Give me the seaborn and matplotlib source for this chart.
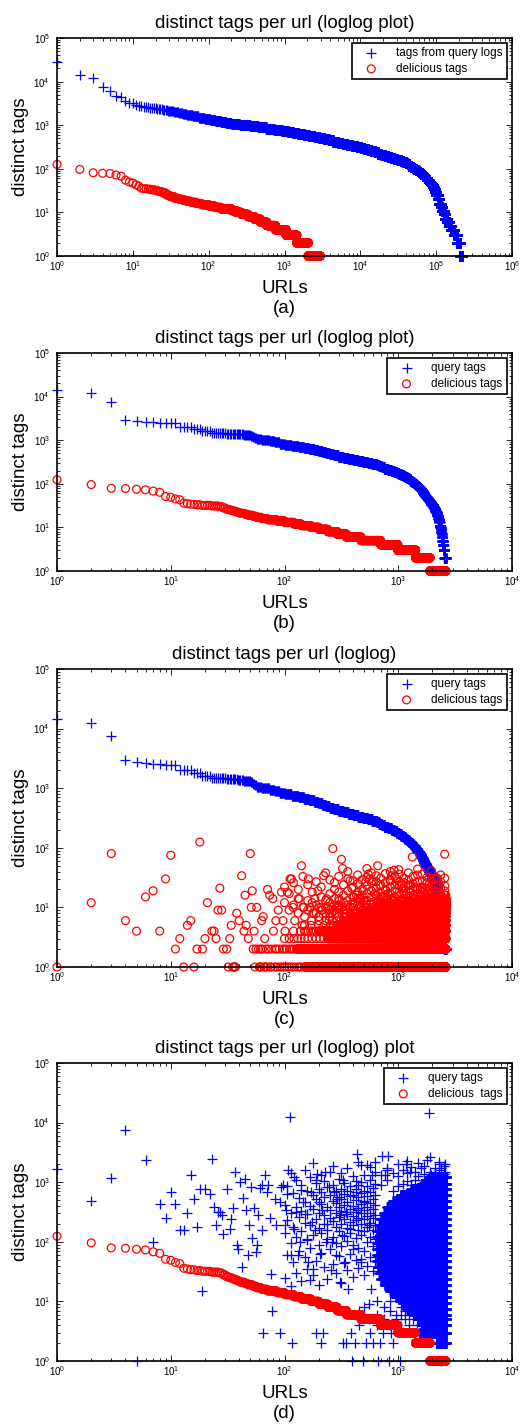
import numpy as np
import pandas as pd
import matplotlib
matplotlib.use("Agg")
import matplotlib.pyplot as plt
import seaborn as sns

# ---- (a) all urls: sorted tag counts kept as runs (value, last url rank with it)
qlog_a_vals = [28800, 14000, 12300, 7600, 6200, 4600, 4400, 3500, 3300, 3250, 2900, 2800, 2700, 2650,
               2600, 2550, 2500, 2450, 2350, 2230, 2100, 2000, 1890, 1780, 1680, 1590, 1500, 1420,
               1340, 1260, 1190, 1120, 1060, 1000, 945, 890, 840, 795, 750, 710, 670, 630, 595, 560,
               530, 500, 472, 446, 421, 398, 376, 355, 335, 316, 299, 282, 266, 251, 237, 224, 211,
               200, 188, 178, 168, 158, 150, 141, 133, 126, 119, 112, 106, 100, 94, 89, 84, 79, 75,
               71, 67, 63, 60, 56, 53, 50, 47, 45, 42, 40, 38, 35, 33, 32, 30, 25, 20, 16, 13, 11,
               9, 7, 6, 5, 4, 3, 2, 1]
qlog_a_last = [1, 2, 3, 4, 5, 6, 7, 8, 9, 10, 11, 12, 13, 14, 15, 16, 18, 20, 24, 28, 34, 40, 45, 51,
               61, 73, 88, 104, 122, 144, 168, 199, 256, 350, 447, 574, 733, 925, 1113, 1295, 1517,
               1800, 2094, 2483, 2870, 3311, 3820, 4406, 5083, 5821, 6714, 7745, 8933, 10210, 11280,
               12560, 13930, 15450, 17130, 19000, 21070, 23050, 25590, 28050, 30900, 34040, 36500,
               39630, 41880, 44060, 46340, 49090, 51520, 53960, 56760, 59410, 61910, 64450, 66800,
               69340, 71660, 74150, 76180, 79250, 81300, 83380, 85710, 87350, 90000, 91410, 92890,
               95400, 97050, 97950, 100000, 105000, 110000, 116000, 121000, 125000, 132000, 140000,
               147000, 155000, 170000, 187000, 208000, 218000]
del_a_vals = [126, 97, 81, 79, 78, 72, 68, 55, 50, 47, 43, 40, 36, 35, 34, 33, 32, 30, 28, 25, 23, 21,
              20, 19, 18, 17, 16, 15, 14, 13, 12, 11, 10, 9, 8, 7, 6, 5, 4, 3, 2, 1]
del_a_last = [1, 2, 3, 4, 5, 6, 7, 8, 9, 10, 11, 12, 13, 15, 17, 19, 21, 24, 27, 30, 35, 40, 45, 50,
              58, 68, 80, 100, 120, 145, 200, 230, 270, 330, 400, 480, 580, 760, 1050, 1450, 2050, 2950]

# ---- (b) urls having both kinds of tags
query_b_vals = [14300, 12300, 7500, 2950, 2780, 2620, 2560, 2530, 2490, 2470, 2450, 2050, 1800, 1600,
                1500, 1420, 1370, 1320, 1250, 1180, 1120, 1060, 1000, 945, 890, 840, 795, 750, 710,
                670, 630, 595, 560, 530, 500, 472, 446, 421, 398, 376, 355, 335, 316, 299, 282, 266,
                251, 237, 224, 211, 200, 188, 178, 168, 158, 150, 141, 133, 126, 119, 112, 106, 100,
                94, 89, 84, 79, 75, 71, 67, 63, 60, 56, 53, 50, 47, 45, 42, 40, 38, 35, 33, 32, 30,
                28, 26, 24, 22, 20, 18, 16, 14, 13, 11, 10, 9, 8, 7, 6, 5, 4, 3, 2]
query_b_last = [1, 2, 3, 4, 5, 6, 7, 8, 9, 10, 11, 15, 18, 22, 30, 38, 43, 50, 52, 54, 56, 62, 73,
                81, 90, 100, 115, 132, 147, 163, 182, 198, 214, 230, 248, 269, 297, 329, 363, 401,
                442, 488, 537, 586, 646, 679, 714, 755, 809, 871, 921, 967, 1009, 1057, 1110, 1146,
                1191, 1236, 1279, 1322, 1368, 1400, 1432, 1469, 1503, 1538, 1570, 1593, 1618, 1644,
                1671, 1694, 1726, 1750, 1780, 1813, 1837, 1875, 1901, 1932, 1981, 2014, 2035, 2061,
                2086, 2112, 2143, 2175, 2210, 2250, 2270, 2296, 2307, 2339, 2355, 2377, 2400, 2417,
                2438, 2466, 2500, 2547, 2620]
del_b_vals = [124, 96, 79, 78, 75, 73, 68, 64, 51, 49, 45, 43, 36, 35, 34, 33, 32, 31, 30, 28, 26, 25,
              24, 23, 22, 21, 20, 19, 18, 17, 16, 15, 14, 13, 12, 11, 10, 9, 8, 7, 6, 5, 4, 3, 2, 1]
del_b_last = [1, 2, 3, 4, 5, 6, 7, 8, 9, 10, 11, 12, 13, 14, 16, 18, 22, 26, 28, 30, 32, 34, 36, 38,
              40, 44, 47, 52, 56, 62, 70, 85, 100, 120, 140, 170, 200, 240, 290, 350, 470, 700, 990,
              1420, 1900, 2620]

# ---- (c) delicious tags in query-tag order: single circles, columns of circles, solid rows
del_c_rank = [1, 2, 3, 4, 5, 6, 7, 8, 9, 10, 11, 12, 13, 14, 15, 16, 17, 18, 19, 20,
              21, 23, 24, 25, 26, 27, 28, 29, 31, 32, 33, 34, 35, 36, 38, 40, 42, 44, 45, 46,
              48, 50, 51, 52, 54, 57, 59, 61, 63, 65, 67, 71, 74, 75, 79, 80, 84, 85, 88, 91,
              94, 97, 101, 106, 110, 112, 115, 119, 123, 128, 130, 135, 141, 143, 148, 154, 162,
              168, 173, 178, 184, 197, 203, 215, 221, 235, 247, 260, 266, 276, 290, 303, 317, 324,
              340, 350, 377, 390, 408, 430, 458, 470, 496, 520, 545, 563, 592, 625, 660, 690, 740,
              780, 815, 850, 875, 920, 960, 1010, 1060, 1110, 1170, 1260, 1330, 1400, 1475, 1560,
              1630, 1720, 1820, 1910, 2000, 2110, 2200, 2270, 2380, 2560, 2620]
del_c_val = [1, 12, 80, 6, 4, 15, 19, 4, 30, 75, 2, 3, 1, 5, 6, 1, 2, 125, 2, 3,
             12, 4, 4, 3, 9, 21, 9, 2, 2, 1, 3, 5, 1, 1, 8, 6, 34, 4, 16, 5,
             3, 80, 10, 19, 4, 10, 2, 1, 6, 7, 3, 20, 16, 1, 14, 4, 6, 2, 9, 1,
             18, 6, 4, 18, 1, 30, 30, 10, 6, 2, 1, 14, 50, 5, 10, 4, 30,
             10, 6, 8, 14, 19, 10, 9, 34, 14, 6, 8, 97, 14, 10, 13, 64, 45,
             8, 8, 28, 21, 15, 16, 14, 10, 19, 27, 36, 30, 28, 17, 50, 23, 15,
             19, 17, 28, 34, 42, 30, 43, 25, 19, 16, 24, 70, 22, 20, 20,
             21, 19, 19, 20, 14, 16, 31, 24, 15, 78, 16]
del_c_columns = [
    (100, [12, 22]), (110, [9, 17]), (120, [11, 26]), (132, [8, 14, 20]), (145, [10, 33]),
    (160, [9, 13, 24]), (175, [12, 18]), (190, [8, 11, 27]), (210, [9, 15, 22]),
    (230, [10, 13, 38]), (250, [8, 12, 17, 29]), (275, [9, 11, 20, 26]), (300, [10, 14, 18, 33]),
    (330, [9, 12, 16, 24]), (360, [11, 13, 19, 30, 40]), (400, [10, 12, 15, 22, 28]),
    (440, [11, 14, 18, 25, 35]), (480, [12, 16, 20, 29]), (530, [11, 13, 17, 23, 32, 45]),
    (580, [12, 15, 19, 26, 38]), (640, [11, 14, 16, 21, 27, 34]), (700, [12, 15, 18, 24, 31]),
    (770, [13, 16, 20, 26, 37]), (850, [12, 14, 17, 22, 29, 40]), (930, [13, 15, 19, 24, 33]),
    (1020, [13, 16, 18, 23, 27, 36]), (1120, [14, 17, 21, 26, 31]),
    (1230, [13, 15, 19, 23, 29, 38]), (1350, [14, 16, 20, 25, 33]),
    (1480, [14, 17, 21, 27, 35, 44]), (1630, [15, 18, 22, 28, 36]), (1790, [15, 17, 21, 26, 32]),
    (1960, [15, 18, 23, 29, 41]), (2150, [16, 19, 24, 30]), (2360, [15, 17, 21, 27, 35]),
    (2560, [16, 19, 23, 31]),
]
del_c_chains = [
    (1, [36, 37, 55, 60, 62, 66, 68, 70, 76, 82, 86, 95, 100, 105, 116, 122, 136, 140]),
    (2, [53, 56, 62, 64, 69, 72, 77, 83, 90, 96, 100, 104, 111, 116, 121]),
    (3, [100, 110, 121, 131, 140, 150, 160, 175, 190, 205, 222]),
    (4, [120, 138, 150, 161, 170, 181, 190]),
    (5, [150, 171, 198, 222, 252, 271]),
    (6, [201, 232, 262, 291, 312]),
    (7, [150, 200, 250, 300, 340]),
    (8, [180, 230, 280, 330, 380, 420, 460]),
    (9, [250, 300, 350, 420, 480, 520]),
    (10, [210, 260, 320, 380, 450, 520, 600, 650]),
    (11, [300, 400, 500, 600, 700, 800, 900]),
    (12, [400, 520, 650, 800, 950, 1100, 1200]),
    (13, [500, 700, 900, 1100, 1300, 1500]),
    (14, [800, 1100, 1400, 1700]),
]
del_c_row_val = [1, 2, 3, 4, 5, 6, 7, 8, 9, 10, 11, 12, 13, 14]
del_c_row_from = [150, 128, 240, 200, 290, 330, 380, 500, 560, 690, 960, 1260, 1650, 1900]
del_c_row_to = [2620] * 14

# ---- (d) query tags in delicious-tag order: single crosses, columns of crosses, solid rows
query_d_rank = [1, 2, 3, 4, 5, 6, 7, 8, 9, 10, 11, 12, 13, 14, 15, 16, 17, 18, 19, 20,
                22, 23, 24, 25, 26, 27, 28, 29, 31, 33, 34, 35, 37, 38, 39, 41, 42, 43, 45, 46,
                48, 49, 51, 52, 54, 56, 57, 59, 61, 63, 64, 67, 70, 72, 74, 76, 78, 82, 85, 91,
                94, 97, 101, 104, 106, 108, 111, 115, 117, 120, 122, 127, 131, 136, 141, 146, 152,
                157, 162, 166, 170, 174, 179, 185, 191, 189, 194, 200, 204, 210, 215, 218, 226, 230,
                237, 246, 255, 264, 272, 284, 292, 305, 309, 319, 326, 330, 338, 346, 350, 362, 375,
                388, 396, 402, 418, 422, 430, 445, 452, 466, 472, 490, 496, 504, 520, 535, 550, 560,
                575, 592, 600, 625, 668, 690, 697, 714, 740, 760, 790, 815, 830, 870, 900, 1030,
                1170, 1260, 1400, 1600, 1800, 1870, 1940, 2170, 2290, 2380, 2400, 2560, 65, 92]
query_d_val = [1690, 478, 1180, 7500, 1, 2400, 100, 425, 254, 685, 436, 160, 160, 310, 1300, 515, 177,
               760, 15, 760,
               640, 2420, 385, 189, 317, 317, 278, 137, 780, 162, 245, 369, 1480, 87, 77, 1010, 38,
               543, 1120, 337,
               59, 189, 830, 116, 369, 67, 87, 278, 800, 156, 890, 1300, 685, 890, 251, 29, 7, 530,
               189, 465,
               830, 890, 189, 337, 640, 1580, 12300, 59, 2, 1220, 166, 317, 59, 100, 730, 465, 297,
               106, 46, 23, 685, 215, 35, 156, 1070, 3, 1380, 465, 63, 2, 337, 3, 1480, 100,
               200, 830, 33, 100, 685, 59, 530, 21, 278, 129, 1070, 2, 46, 2, 317, 16, 166,
               3, 1, 77, 2, 685, 3000, 337, 5, 52, 1920, 1, 8, 465, 2, 1920, 189, 3,
               16, 1300, 2, 2180, 1, 2, 77, 2800, 3, 1300, 1580, 2800, 1, 3, 2, 1,
               2050, 1480, 3, 1700, 2400, 14300, 1300, 2, 2050, 1, 1700, 2, 3, 3]
query_d_columns = [
    (100, [25, 140, 420]), (106, [60, 230, 880]), (113, [18, 95, 310, 1400]),
    (119, [45, 180, 650]), (126, [30, 120, 380, 1100]), (133, [70, 260, 540]),
    (141, [22, 150, 330, 900]), (150, [55, 210, 470, 1600]), (158, [35, 110, 290, 720]),
    (168, [80, 190, 400, 1200]), (178, [28, 130, 350, 620, 2100]), (188, [48, 240, 520, 980]),
    (200, [19, 90, 170, 310, 760]), (211, [65, 140, 430, 680, 1300]),
    (224, [38, 200, 280, 560, 1050]), (237, [24, 110, 160, 390, 820]),
    (251, [75, 250, 340, 610, 1500]), (266, [42, 120, 220, 480, 900, 1900]),
    (282, [30, 95, 180, 300, 440, 700]), (299, [58, 150, 260, 380, 560, 1150]),
    (316, [20, 85, 200, 330, 520, 780, 1400]), (335, [44, 125, 240, 410, 640, 980]),
    (355, [33, 105, 170, 290, 460, 710, 1700]), (376, [62, 140, 215, 350, 580, 860]),
    (398, [26, 90, 190, 270, 400, 620, 1250]), (421, [50, 115, 230, 320, 500, 760, 1050]),
    (446, [36, 80, 160, 250, 370, 560, 890, 2200]), (472, [45, 130, 200, 300, 430, 650, 1000]),
    (500, [28, 70, 150, 240, 340, 480, 720, 1300]), (530, [40, 100, 180, 270, 390, 590, 850]),
    (560, [55, 120, 210, 310, 450, 680, 1100, 1800]), (595, [32, 85, 160, 250, 360, 530, 790]),
    (630, [48, 110, 190, 280, 420, 620, 950, 1500]),
    (700, [900, 1300]), (800, [1100, 1700]), (900, [700, 1400]), (1000, [850, 1250, 2000]),
    (1100, [950, 1600]), (1200, [1050, 1400, 2300]), (1300, [900, 1800]), (1400, [1100, 1500]),
    (1500, [1250, 2100]), (1700, [1000, 1350, 1900]), (1900, [1500, 2600]), (2100, [1400, 1700]),
    (2300, [1600, 2200]), (2500, [1350, 1900]), (2600, [1500, 2000]),
    (450, [4, 7]), (550, [5, 9]), (650, [4, 6, 10]), (750, [5, 8]), (850, [4, 7, 10]),
    (950, [5, 6]), (1050, [6, 8]), (1150, [5, 7]), (1250, [4, 6]), (1350, [5]), (1450, [4]),
]
query_d_row_val = [2, 3, 4, 5, 6, 7.5, 9.5, 12, 15, 19, 24, 30, 38, 48, 60, 75, 95, 120, 150, 190,
                   240, 300, 380, 480, 600, 760, 950, 1200]
query_d_row_from = [2180, 1550, 1600, 1500, 1400, 1200, 1100, 950, 850, 760, 700, 680, 660, 650, 650,
                    650, 650, 650, 650, 680, 700, 750, 800, 900, 1050, 1300, 1600, 1900]
query_d_row_to = [2620] * 28


def ranked(vals, last):
    n = np.diff(np.r_[0, last])
    tags = np.repeat(vals, n)
    return pd.DataFrame({"rank": np.arange(1, len(tags) + 1), "tags": tags})


def scattered(rank, val, columns, chains, row_val, row_from, row_to):
    xs = [np.asarray(rank, dtype=float)]
    ys = [np.asarray(val, dtype=float)]
    for r, vs in columns:
        xs.append(np.full(len(vs), r, dtype=float))
        ys.append(np.asarray(vs, dtype=float))
    for v, rs in chains:
        xs.append(np.asarray(rs, dtype=float))
        ys.append(np.full(len(rs), v, dtype=float))
    for v, a, b in zip(row_val, row_from, row_to):
        r = np.arange(a, b + 1)
        xs.append(r.astype(float))
        ys.append(np.full(len(r), v, dtype=float))
    return pd.DataFrame({"rank": np.concatenate(xs), "tags": np.concatenate(ys)})


plt.rcParams["font.family"] = ["Liberation Sans", "DejaVu Sans"]
plt.rcParams["axes.linewidth"] = 1.2

fig = plt.figure(figsize=(5.27, 14.27), dpi=100)
H = 1427.0
boxes = [(38, 256), (353, 571), (669, 967), (1063, 1361)]
axs = [fig.add_axes([57 / 527, 1 - b / H, 455 / 527, (b - t) / H]) for t, b in boxes]

panels = [
    (ranked(qlog_a_vals, qlog_a_last), ranked(del_a_vals, del_a_last),
     "distinct tags per url (loglog plot)", "tags from query logs", "delicious tags", "(a)", 6),
    (ranked(query_b_vals, query_b_last), ranked(del_b_vals, del_b_last),
     "distinct tags per url (loglog plot)", "query tags", "delicious tags", "(b)", 4),
    (ranked(query_b_vals, query_b_last),
     scattered(del_c_rank, del_c_val, del_c_columns, del_c_chains,
               del_c_row_val, del_c_row_from, del_c_row_to),
     "distinct tags per url (loglog)", "query tags", "delicious tags", "(c)", 4),
    (scattered(query_d_rank, query_d_val, query_d_columns, [],
               query_d_row_val, query_d_row_from, query_d_row_to),
     ranked(del_b_vals, del_b_last),
     "distinct tags per url (loglog) plot", "query tags", "delicious  tags", "(d)", 4),
]

for ax, (blue, red, title, lab1, lab2, tag, ndec) in zip(axs, panels):
    sns.scatterplot(data=blue, x="rank", y="tags", ax=ax, marker="+", s=50, color="#0000ff",
                    linewidth=0.9, clip_on=False, label=lab1)
    sns.scatterplot(data=red, x="rank", y="tags", ax=ax, marker="o", s=32, facecolors="none",
                    edgecolor="#ff0000", linewidth=0.9, clip_on=False, label=lab2)
    ax.set_xscale("log")
    ax.set_yscale("log")
    ax.set_xticks([10.0 ** k for k in range(ndec + 1)])
    ax.set_yticks([10.0 ** k for k in range(6)])
    ax.set_xlim(1, 10.0 ** ndec)
    ax.set_ylim(1, 1e5)
    ax.tick_params(which="both", direction="in", top=True, right=True, labelsize=7,
                   width=0.6, colors="black")
    ax.tick_params(axis="x", pad=2.5)
    ax.tick_params(axis="y", pad=5)
    ax.tick_params(which="major", length=4)
    ax.tick_params(which="minor", length=2)
    ax.set_title(title, fontsize=13.5, pad=7.5)
    ax.set_xlabel("URLs\n" + tag, fontsize=13.5, labelpad=5, linespacing=1.25)
    ax.set_ylabel("distinct tags", fontsize=13.5, labelpad=3)
    leg = ax.legend(loc="upper right", fontsize=8.5, frameon=True, fancybox=False,
                    edgecolor="black", framealpha=1, borderpad=0.35, labelspacing=0.3,
                    handlelength=2.6, handletextpad=0.8, borderaxespad=0.45, scatterpoints=1)
    leg.get_frame().set_linewidth(1.2)

fig.savefig("out.png", dpi=100)
